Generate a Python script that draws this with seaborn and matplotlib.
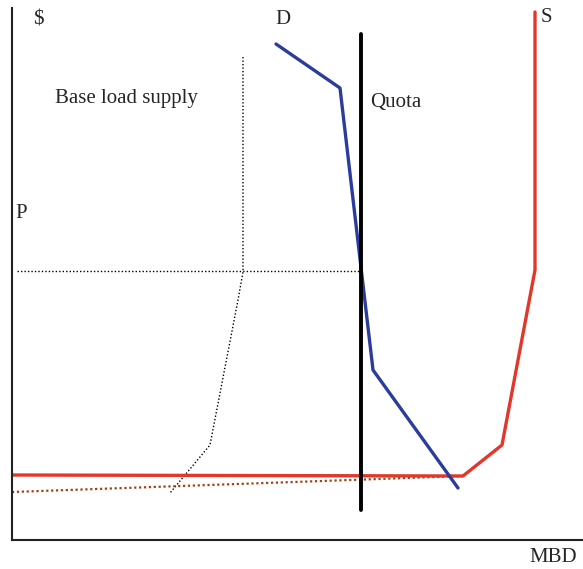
import numpy as np
import pandas as pd
import matplotlib
matplotlib.use("Agg")
import matplotlib.pyplot as plt
import seaborn as sns

# quantity (MBD) and price ($), in chart units
supply_q = [0, 451, 490, 523, 523]
supply_p = [65, 64, 95, 270, 528]

demand_q = [264, 328, 361, 446]
demand_p = [496, 452, 170, 52]

base_q = [231, 231, 226, 198, 158]
base_p = [483, 268, 240, 95, 47]

import_q = [0, 451]
import_p = [48, 64]

quota_q = [349, 349]
quota_p = [30, 506]

price_q = [5, 349]
price_p = [269, 269]

sns.set_style("white")
plt.rcParams["font.family"] = ["Liberation Serif", "DejaVu Serif"]

fig = plt.figure(figsize=(5.83, 5.69), dpi=100)
ax = fig.add_axes([12 / 583, 29 / 569, 571 / 583, 532 / 569])

kw = dict(sort=False, estimator=None, ax=ax)
sns.lineplot(x=base_q, y=base_p, color="black", lw=1.0, linestyle=(0, (1, 1.5)), **kw)
sns.lineplot(x=price_q, y=price_p, color="black", lw=1.0, linestyle=(0, (1, 1.5)), **kw)
sns.lineplot(x=import_q, y=import_p, color="#a4420f", lw=1.6, linestyle=(0, (1, 1.2)), **kw)
sns.lineplot(x=supply_q, y=supply_p, color="#e2372a", lw=2.4, **kw)
sns.lineplot(x=demand_q, y=demand_p, color="#2b3d9c", lw=2.4, **kw)
sns.lineplot(x=quota_q, y=quota_p, color="black", lw=2.8, **kw)

ax.set_xlim(0, 571)
ax.set_ylim(0, 532)
ax.set_xticks([])
ax.set_yticks([])
sns.despine(ax=ax)
for s in ["left", "bottom"]:
    ax.spines[s].set_color("#222222")
    ax.spines[s].set_linewidth(1.5)

fs = 15
ax.text(21, 520, "$", fontsize=fs, va="center")
ax.text(263, 520, "D", fontsize=fs, va="center")
ax.text(529, 522, "S", fontsize=fs, va="center")
ax.text(358, 438, "Quota", fontsize=fs, va="center")
ax.text(43, 441, "Base load supply", fontsize=fs, va="center")
ax.text(3, 327, "P", fontsize=fs, va="center")
ax.text(565, -17, "MBD", fontsize=fs, va="center", ha="right", clip_on=False)

fig.savefig("out.png", dpi=100)
